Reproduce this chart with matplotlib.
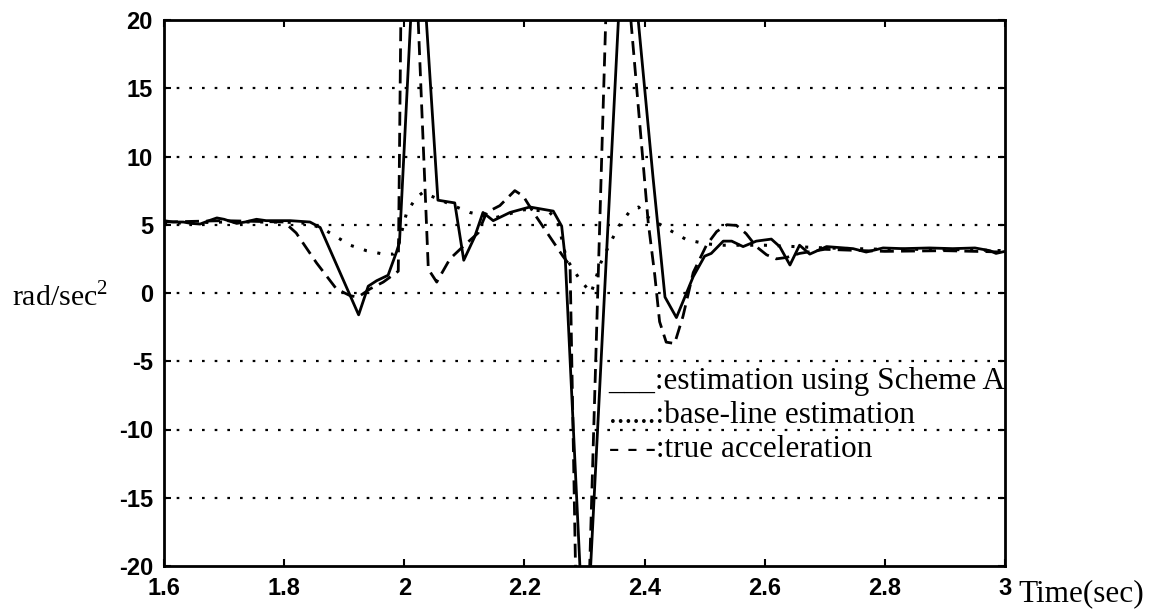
import matplotlib
matplotlib.use('Agg')
import matplotlib.pyplot as plt

# estimation using Scheme A (solid)
t_a = [1.600, 1.615, 1.632, 1.645, 1.660, 1.675, 1.688, 1.700, 1.721, 1.735,
       1.754, 1.770, 1.787, 1.810, 1.843, 1.860, 1.924, 1.940, 1.954, 1.973,
       1.987, 1.992, 2.022, 2.056, 2.084, 2.099, 2.117, 2.131, 2.148, 2.176,
       2.209, 2.248, 2.262, 2.268, 2.301, 2.368, 2.414, 2.434, 2.453, 2.481,
       2.500, 2.511, 2.531, 2.545, 2.564, 2.586, 2.611, 2.625, 2.642, 2.658,
       2.675, 2.703, 2.747, 2.769, 2.797, 2.830, 2.874, 2.913, 2.950, 2.975,
       2.985, 3.000]
acc_a = [5.3, 5.2, 5.2, 5.1, 5.05, 5.3, 5.5, 5.4, 5.1, 5.2,
         5.4, 5.3, 5.3, 5.3, 5.2, 4.8, -1.6, 0.5, 0.9, 1.3,
         3.0, 3.7, 30.0, 6.8, 6.6, 2.4, 4.1, 5.9, 5.3, 5.9,
         6.3, 6.0, 4.9, 2.5, -28.0, 30.0, 8.5, -0.3, -1.8, 1.2,
         2.7, 2.9, 3.8, 3.8, 3.4, 3.8, 3.95, 3.4, 2.05, 3.5,
         2.85, 3.4, 3.25, 3.0, 3.3, 3.25, 3.3, 3.25, 3.3, 3.1,
         2.9, 3.05]

# base-line estimation (dotted)
t_b = [1.600, 1.700, 1.800, 1.840, 1.865, 1.910, 1.937, 1.965, 1.982, 1.990,
       2.004, 2.020, 2.032, 2.045, 2.087, 2.109, 2.150, 2.200, 2.240, 2.255,
       2.270, 2.292, 2.311, 2.327, 2.341, 2.357, 2.374, 2.390, 2.400, 2.442,
       2.470, 2.503, 2.530, 2.560, 2.600, 2.650, 2.700, 2.800, 2.900, 3.000]
acc_b = [5.1, 5.2, 5.2, 5.1, 4.7, 3.5, 3.1, 2.85, 2.85, 3.5,
         5.9, 7.0, 7.4, 7.1, 6.3, 5.9, 5.5, 6.1, 6.0, 5.3,
         2.5, 1.0, 0.0, 2.2, 3.5, 4.9, 5.9, 6.3, 5.7, 4.6,
         3.9, 3.6, 3.5, 3.5, 3.5, 3.4, 3.3, 3.2, 3.2, 3.1]

# true acceleration (dashed)
t_c = [1.600, 1.700, 1.800, 1.820, 1.854, 1.887, 1.910, 1.923, 1.943, 1.965,
       1.990, 2.000, 2.040, 2.054, 2.076, 2.100, 2.123, 2.137, 2.159, 2.184,
       2.198, 2.215, 2.264, 2.276, 2.294, 2.346, 2.406, 2.417, 2.425, 2.436,
       2.450, 2.464, 2.481, 2.503, 2.520, 2.537, 2.553, 2.569, 2.586, 2.603,
       2.619, 2.636, 2.658, 2.700, 2.800, 2.900, 3.000]
acc_c = [5.2, 5.3, 5.2, 4.4, 2.2, 0.3, -0.2, -0.3, 0.3, 0.8,
         1.6, 45.0, 1.75, 0.8, 2.5, 3.5, 4.4, 5.9, 6.4, 7.5,
         7.1, 5.9, 2.7, 2.0, -42.0, 36.0, 5.2, 1.3, -2.1, -3.6,
         -3.7, -1.7, 1.5, 3.5, 4.5, 5.0, 4.95, 4.35, 3.4, 2.8,
         2.5, 2.6, 2.9, 3.2, 3.05, 3.1, 3.0]

xticks = [1.6, 1.8, 2.0, 2.2, 2.4, 2.6, 2.8, 3.0]
xticklabels = ['1.6', '1.8', '2', '2.2', '2.4', '2.6', '2.8', '3']
yticks = [-20, -15, -10, -5, 0, 5, 10, 15, 20]
legend_lines = ['___:estimation using Scheme A',
                '......:base-line estimation',
                '- - -:true acceleration']

plt.rcParams['mathtext.fontset'] = 'custom'
plt.rcParams['mathtext.rm'] = 'Liberation Serif'

fig = plt.figure(figsize=(11.53, 6.14), dpi=100)
W, H = 1153, 614
ax = fig.add_axes([164 / W, 1 - 566 / H, (1005 - 164) / W, (566 - 20) / H])

ax.plot(t_a, acc_a, color='black', lw=2.0, ls='-')
ax.plot(t_b, acc_b, color='black', lw=2.2, ls=(0, (1.0, 3.5)))
ax.plot(t_c, acc_c, color='black', lw=2.0, ls=(0, (5, 2.6)))

for y in yticks[1:-1]:
    ax.axhline(y, color='black', lw=1.6, ls=(0, (1.2, 4.5)), zorder=0)

ax.set_xlim(1.6, 3.0)
ax.set_ylim(-20, 20)
ax.set_xticks(xticks)
ax.set_xticklabels(xticklabels)
ax.set_yticks(yticks)
ax.set_yticklabels([str(v) for v in yticks])
ax.tick_params(direction='in', length=5, width=1.5, top=True, right=True,
               labelsize=17, pad=8)
for lab in ax.get_xticklabels() + ax.get_yticklabels():
    lab.set_fontfamily('Liberation Sans')
    lab.set_fontweight('bold')
for sp in ax.spines.values():
    sp.set_linewidth(2.0)

# legend drawn as text inside the axes
for i, txt in enumerate(legend_lines):
    ax.text(2.34, -6.5 - 2.5 * i, txt, family='Liberation Serif', fontsize=22.5,
            ha='left', va='center')

fig.text(12 / W, 1 - 297 / H, r'rad/sec$^\mathregular{2}$', family='Liberation Serif',
         fontsize=21.5, ha='left', va='center')
fig.text(1018 / W, 1 - 594 / H, 'Time(sec)', family='Liberation Serif',
         fontsize=22.5, ha='left', va='center')

fig.savefig('out.png', dpi=100)
